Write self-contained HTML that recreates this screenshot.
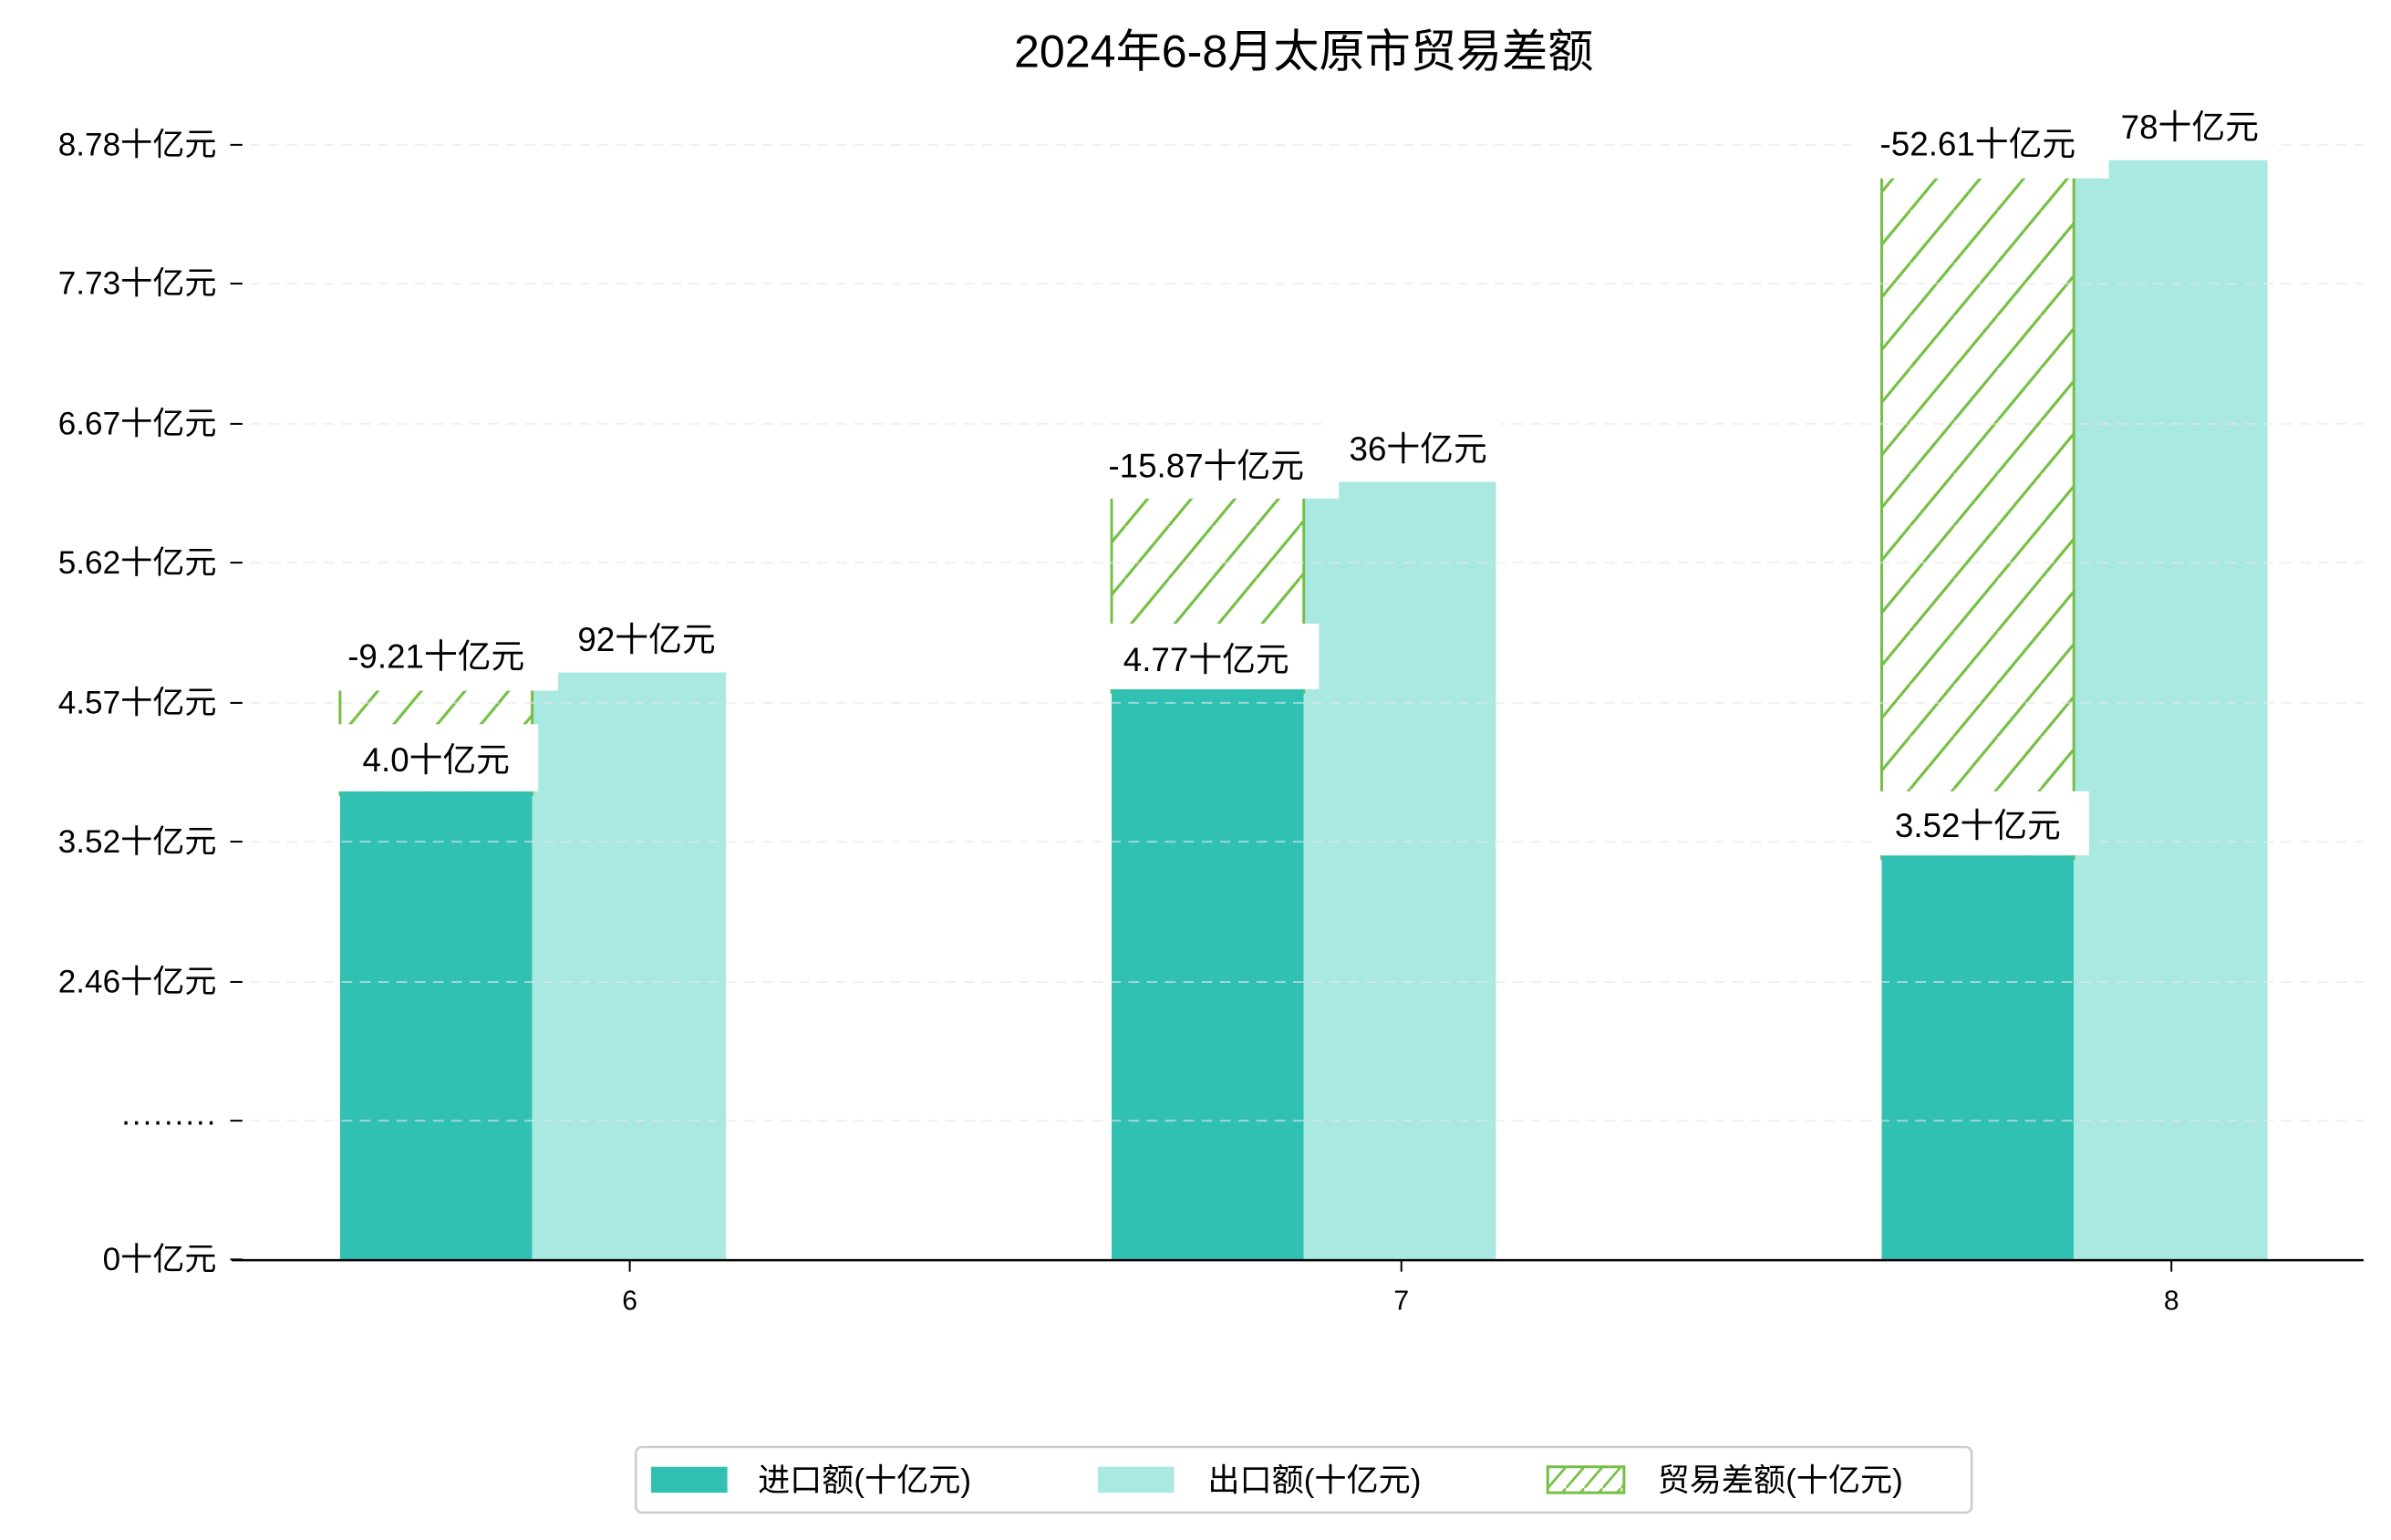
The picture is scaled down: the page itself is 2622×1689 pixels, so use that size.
<!DOCTYPE html>
<html><head><meta charset="utf-8"><style>
html,body{margin:0;padding:0;background:#fff;}
svg{display:block;}
text{font-family:"Liberation Sans","Noto Sans CJK SC",sans-serif;fill:#000;}
</style></head><body>
<svg width="2622" height="1689" viewBox="0 0 1568 1010" preserveAspectRatio="none" xmlns="http://www.w3.org/2000/svg">
<defs>
<pattern id="h" patternUnits="userSpaceOnUse" width="28.6" height="34.5" x="223" y="0">
<line x1="-28.6" y1="69" x2="28.6" y2="0" stroke="#76bf45" stroke-width="1.8"/>
<line x1="0" y1="69" x2="57.2" y2="0" stroke="#76bf45" stroke-width="1.8"/>
<line x1="-28.6" y1="34.5" x2="0" y2="0" stroke="#76bf45" stroke-width="1.8"/>
<line x1="0" y1="34.5" x2="28.6" y2="0" stroke="#76bf45" stroke-width="1.8"/>
</pattern>
<pattern id="hl" patternUnits="userSpaceOnUse" width="12" height="14" x="1015" y="962">
<line x1="0" y1="14" x2="12" y2="0" stroke="#76bf45" stroke-width="1.6"/>
</pattern>
</defs>
<text x="855" y="44" font-size="30" text-anchor="middle">2024年6-8月太原市贸易差额</text>

<rect x="223" y="521" width="126" height="305" fill="#31c1b3"/>
<rect x="349" y="441" width="127" height="385" fill="#aae8e2"/>
<rect x="729" y="454" width="126" height="372" fill="#31c1b3"/>
<rect x="855" y="316" width="126" height="510" fill="#aae8e2"/>
<rect x="1234" y="563" width="126" height="263" fill="#31c1b3"/>
<rect x="1360" y="105" width="127" height="721" fill="#aae8e2"/>

<g stroke="#76bf45" stroke-width="1.8">
<rect x="223" y="440" width="126" height="81" fill="url(#h)"/>
<rect x="729" y="314" width="126" height="140" fill="url(#h)"/>
<rect x="1234" y="105" width="126" height="458" fill="url(#h)"/>
</g>
<rect x="223" y="519" width="126" height="4" fill="#31c1b3"/>
<rect x="729" y="452" width="126" height="4" fill="#31c1b3"/>
<rect x="1234" y="561" width="126" height="4" fill="#31c1b3"/>

<g stroke="#e6e6e6" stroke-opacity="0.6" stroke-width="1.2" stroke-dasharray="7,5">
<line x1="152" x2="1550" y1="95" y2="95"/><line x1="152" x2="1550" y1="186" y2="186"/>
<line x1="152" x2="1550" y1="278" y2="278"/><line x1="152" x2="1550" y1="369" y2="369"/>
<line x1="152" x2="1550" y1="461" y2="461"/><line x1="152" x2="1550" y1="552" y2="552"/>
<line x1="152" x2="1550" y1="644" y2="644"/><line x1="152" x2="1550" y1="735" y2="735"/>
</g>

<g fill="#fff">
<rect x="366" y="402" width="112" height="39"/>
<rect x="210" y="410" width="156" height="43"/>
<rect x="218" y="475" width="135" height="44"/>
<rect x="872" y="276" width="112" height="40"/>
<rect x="710" y="286" width="168" height="41"/>
<rect x="724" y="409" width="141" height="43"/>
<rect x="1380" y="64" width="110" height="41"/>
<rect x="1215" y="75" width="168" height="42"/>
<rect x="1229" y="519" width="141" height="42"/>
</g>
<g font-size="22" text-anchor="middle">
<text x="424" y="427">92十亿元</text>
<text x="286" y="438">-9.21十亿元</text>
<text x="286" y="506">4.0十亿元</text>
<text x="930" y="302">36十亿元</text>
<text x="791" y="313">-15.87十亿元</text>
<text x="791" y="440">4.77十亿元</text>
<text x="1436" y="91">78十亿元</text>
<text x="1297" y="102">-52.61十亿元</text>
<text x="1297" y="549">3.52十亿元</text>
</g>

<line x1="152" x2="1550" y1="826.5" y2="826.5" stroke="#000" stroke-width="1.5"/>
<g stroke="#000" stroke-width="1.2">
<line x1="151" x2="159" y1="95" y2="95"/><line x1="151" x2="159" y1="186" y2="186"/>
<line x1="151" x2="159" y1="278" y2="278"/><line x1="151" x2="159" y1="369" y2="369"/>
<line x1="151" x2="159" y1="461" y2="461"/><line x1="151" x2="159" y1="552" y2="552"/>
<line x1="151" x2="159" y1="644" y2="644"/><line x1="151" x2="159" y1="735" y2="735"/>
<line x1="151" x2="159" y1="826" y2="826"/>
<line x1="413" x2="413" y1="827" y2="834"/><line x1="919" x2="919" y1="827" y2="834"/>
<line x1="1424" x2="1424" y1="827" y2="834"/>
</g>
<g font-size="21" text-anchor="end">
<text x="142" y="102">8.78十亿元</text><text x="142" y="193">7.73十亿元</text>
<text x="142" y="285">6.67十亿元</text><text x="142" y="376">5.62十亿元</text>
<text x="142" y="468">4.57十亿元</text><text x="142" y="559">3.52十亿元</text>
<text x="142" y="651">2.46十亿元</text><text x="142" y="742">·········</text>
<text x="142" y="833">0十亿元</text>
</g>
<g font-size="18" text-anchor="middle">
<text x="413" y="859">6</text><text x="919" y="859">7</text><text x="1424" y="859">8</text>
</g>

<rect x="417" y="949" width="876" height="43" rx="4" fill="#fff" stroke="#ccc" stroke-width="1.5"/>
<rect x="427" y="962" width="50" height="17" fill="#31c1b3"/>
<rect x="720" y="962" width="50" height="17" fill="#aae8e2"/>
<rect x="1015" y="962" width="50" height="17" fill="url(#hl)" stroke="#76bf45" stroke-width="1.8"/>
<g font-size="21">
<text x="497" y="978">进口额(十亿元)</text>
<text x="792" y="978">出口额(十亿元)</text>
<text x="1087" y="978">贸易差额(十亿元)</text>
</g>
</svg>
</body></html>
